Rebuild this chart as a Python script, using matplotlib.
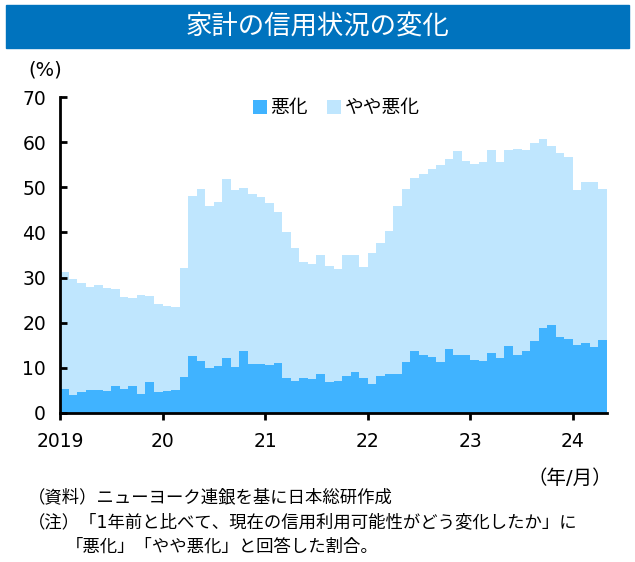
import matplotlib.pyplot as plt
import numpy as np
from matplotlib.patches import Rectangle

plt.rcParams['font.family'] = ['DejaVu Sans', 'Noto Sans CJK JP']

# monthly, 2019/01 - 2024/04 (%)
worse = [5.2, 4.0, 4.6, 5.0, 5.0, 4.8, 5.9, 5.2, 5.9, 4.2, 6.8, 4.6,
         4.8, 5.0, 7.9, 12.6, 11.4, 9.9, 10.3, 12.1, 10.1, 13.7, 10.8, 10.8,
         10.6, 11.0, 7.7, 7.0, 7.7, 7.4, 8.6, 6.8, 7.0, 8.1, 9.1, 7.8,
         6.3, 8.2, 8.6, 8.7, 11.2, 13.6, 12.8, 12.4, 11.2, 14.2, 12.8, 12.9,
         11.8, 11.5, 13.2, 12.1, 14.8, 12.8, 13.6, 15.9, 18.8, 19.4, 16.8, 16.3,
         15.1, 15.5, 14.6, 16.1]
somewhat_worse = [26.1, 25.7, 24.1, 22.9, 23.3, 22.9, 21.6, 20.4, 19.6, 22.0, 19.1, 19.5,
                  18.9, 18.4, 24.2, 35.4, 38.2, 35.9, 36.5, 39.7, 39.3, 36.1, 37.7, 37.0,
                  36.0, 33.5, 32.4, 29.5, 25.7, 25.6, 26.4, 25.8, 24.8, 26.9, 25.9, 24.5,
                  29.1, 29.5, 31.7, 37.1, 38.4, 38.6, 40.2, 41.6, 43.8, 42.0, 45.3, 42.9,
                  43.5, 44.2, 45.0, 43.5, 43.4, 45.7, 44.6, 43.9, 42.0, 39.7, 40.8, 40.5,
                  34.4, 35.8, 36.5, 33.5]
year_labels = ["2019", "20", "21", "22", "23", "24"]
series_names = ["悪化", "やや悪化"]

dark = "#40B3FF"
light = "#BFE6FE"

fig = plt.figure(figsize=(6.35, 5.62), dpi=100)

# title banner
fig.patches.append(Rectangle((6 / 635, 1 - 48 / 562), 623 / 635, 43 / 562,
                             transform=fig.transFigure, color="#0073BE", zorder=0))
fig.text(0.5, 1 - 27 / 562, "家計の信用状況の変化", color="white", fontsize=19,
         ha="center", va="center")

ax = fig.add_axes([60 / 635, 1 - 412.7 / 562, 547 / 635, 315.4 / 562])
x = np.arange(len(worse))
ax.bar(x, worse, width=1, align="edge", color=dark, linewidth=0, label=series_names[0])
ax.bar(x, somewhat_worse, width=1, align="edge", bottom=worse, color=light,
       linewidth=0, label=series_names[1])

ax.set_xlim(0, len(worse))
ax.set_ylim(0, 70)
ax.set_yticks(range(0, 71, 10))
ax.set_xticks(np.arange(len(year_labels)) * 12)
ax.set_xticklabels(year_labels)
for s in ["top", "right"]:
    ax.spines[s].set_visible(False)
for s in ["left", "bottom"]:
    ax.spines[s].set_linewidth(2)
ax.tick_params(axis="y", direction="in", length=5, width=2, labelsize=13.5, pad=10)
ax.tick_params(axis="x", direction="out", length=5, width=2, labelsize=13.5, pad=9)

ax.legend(loc="upper center", bbox_to_anchor=(0.505, 1.05), ncol=2, frameon=False,
          fontsize=13.5, handlelength=0.75, handleheight=0.75, handletextpad=0.2,
          columnspacing=1.0)

fig.text(28 / 635, 1 - 70 / 562, "(%)", fontsize=14, ha="left", va="center")
fig.text(612 / 635, 1 - 478 / 562, "（年/月）", fontsize=14, ha="right", va="center")
fig.text(28 / 635, 1 - 497 / 562, "（資料）ニューヨーク連銀を基に日本総研作成", fontsize=12.5,
         ha="left", va="center")
fig.text(28 / 635, 1 - 522 / 562, "（注）「1年前と比べて、現在の信用利用可能性がどう変化したか」に",
         fontsize=12.5, ha="left", va="center")
fig.text(66 / 635, 1 - 547 / 562, "「悪化」「やや悪化」と回答した割合。", fontsize=12.5,
         ha="left", va="center")

fig.savefig("out.png", dpi=100)
